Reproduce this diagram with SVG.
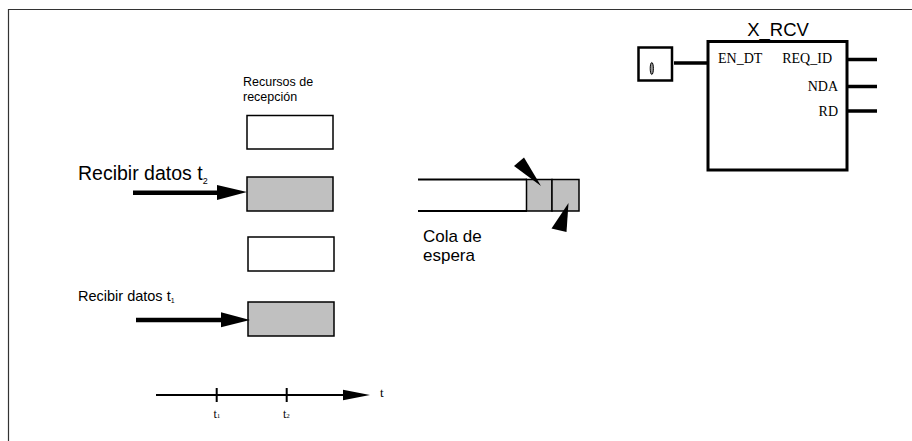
<svg xmlns="http://www.w3.org/2000/svg" width="912" height="441" viewBox="0 0 912 441">
<style>
.sans{font-family:"Liberation Sans",Arial,sans-serif;fill:#000}
.serif{font-family:"Liberation Serif","Times New Roman",serif;fill:#000}
.res{fill:#fff;stroke:#000;stroke-width:1.5}
.busy{fill:#c0c0c0;stroke:#000;stroke-width:1.5}
.thick{stroke:#000;stroke-width:4.5;fill:none}
.head{fill:#000;stroke:none}
</style>
<rect width="912" height="441" fill="#fff"/>
<g id="frame">
<path d="M8.5,441 V9.5 H912" fill="none" stroke="#333" stroke-width="1.2"/>
</g>
<g id="resources">
<text class="sans" x="243" y="86" font-size="12.5">Recursos de</text>
<text class="sans" x="243" y="101" font-size="12.5">recepción</text>
<rect id="res1" class="res" x="247" y="115.5" width="86" height="33.5"/>
<rect id="res2" class="busy" x="247" y="177" width="86" height="34"/>
<rect id="res3" class="res" x="248" y="237" width="86" height="34"/>
<rect id="res4" class="busy" x="248" y="302" width="86" height="34"/>
</g>
<g id="labels">
<text class="sans" x="78" y="180" font-size="19.5">Recibir datos t<tspan font-size="9" dy="4">2</tspan></text>
<text class="sans" x="78" y="301" font-size="14.5">Recibir datos t<tspan font-size="7" dy="2">1</tspan></text>
</g>
<g id="queue">
<line x1="418" y1="179.5" x2="527" y2="179.5" stroke="#000" stroke-width="2"/>
<line x1="418" y1="211" x2="527" y2="211" stroke="#000" stroke-width="2"/>
<rect class="busy" x="526.5" y="179.5" width="25.5" height="31.5"/>
<rect class="busy" x="552" y="179.5" width="27" height="31.5"/>
<polygon class="head" points="514,166 524,157.5 541,186"/>
<polygon class="head" points="551.5,228.5 566.5,232 568.5,203"/>
<text class="sans" x="423" y="242" font-size="17">Cola de</text>
<text class="sans" x="423" y="261" font-size="17">espera</text>
</g>
<g id="connectors">
<line class="thick" x1="133" y1="192.8" x2="219" y2="192.8"/>
<polygon class="head" points="217,185 247,192 217,200"/>
<line class="thick" x1="136" y1="320" x2="223" y2="320"/>
<polygon class="head" points="221,312.3 250,320 221,327.3"/>
<line x1="674" y1="63" x2="708" y2="63" stroke="#000" stroke-width="3.5"/>
<line x1="847" y1="59.5" x2="877" y2="59.5" stroke="#000" stroke-width="3.5"/>
<line x1="847" y1="86.5" x2="877" y2="86.5" stroke="#000" stroke-width="3.5"/>
<line x1="847" y1="111" x2="877" y2="111" stroke="#000" stroke-width="3.5"/>
</g>
<g id="xrcv">
<text class="sans" x="778" y="36" font-size="18.5" text-anchor="middle">X_RCV</text>
<rect x="708" y="41.5" width="139" height="128.5" fill="#fff" stroke="#000" stroke-width="3"/>
<text class="serif" x="718" y="63" font-size="14">EN_DT</text>
<text class="serif" x="832" y="63" font-size="14" text-anchor="end">REQ_ID</text>
<text class="serif" x="838" y="91" font-size="14" text-anchor="end">NDA</text>
<text class="serif" x="838" y="116" font-size="14" text-anchor="end">RD</text>
</g>
<g id="enable">
<rect x="638.5" y="47.5" width="33.5" height="33" fill="#fff" stroke="#000" stroke-width="2.5"/>
<ellipse cx="651.8" cy="68.5" rx="1.6" ry="6" fill="#999" stroke="#000" stroke-width="1"/>
</g>
<g id="timeaxis">
<line x1="156" y1="395" x2="346" y2="395" stroke="#000" stroke-width="2"/>
<polygon class="head" points="343,389.8 370,395 343,400.2"/>
<line x1="216.7" y1="388" x2="216.7" y2="402" stroke="#000" stroke-width="2"/>
<line x1="286.7" y1="388" x2="286.7" y2="402" stroke="#000" stroke-width="2"/>
<text class="serif" x="380" y="397" font-size="13">t</text>
<text class="serif" x="213.5" y="418" font-size="12">t<tspan font-size="7">1</tspan></text>
<text class="serif" x="283" y="418" font-size="12">t<tspan font-size="7">2</tspan></text>
</g>
</svg>
